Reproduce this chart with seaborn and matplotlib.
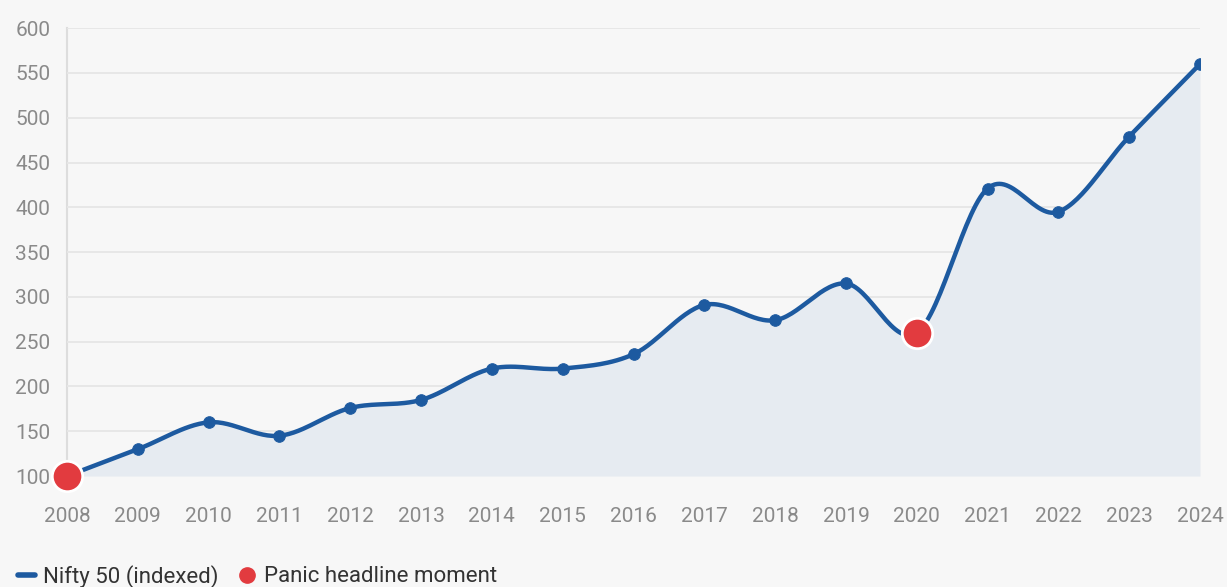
import numpy as np
import pandas as pd
import matplotlib
matplotlib.use("Agg")
import matplotlib.pyplot as plt
import seaborn as sns
from matplotlib.lines import Line2D

years = [2008, 2009, 2010, 2011, 2012, 2013, 2014, 2015, 2016,
         2017, 2018, 2019, 2020, 2021, 2022, 2023, 2024]
nifty = [100, 130, 160, 145, 176, 185, 220, 220, 236,
         291, 274, 315, 260, 421, 395, 479, 560]
panic_years = [2008, 2020]
panic_values = [100, 260]
y_ticks = [100, 150, 200, 250, 300, 350, 400, 450, 500, 550, 600]

LINE = "#1d5aa0"
RED = "#e23b3f"
BG = "#f7f7f7"

sns.set_theme(style="white")
plt.rcParams['font.family'] = ['Roboto', 'DejaVu Sans']


def catmull_rom(x, y, n=30):
    x = np.asarray(x, float)
    y = np.asarray(y, float)
    xp = np.concatenate([[2 * x[0] - x[1]], x, [2 * x[-1] - x[-2]]])
    yp = np.concatenate([[2 * y[0] - y[1]], y, [2 * y[-1] - y[-2]]])
    xs, ys = [], []
    for i in range(1, len(xp) - 2):
        t = np.linspace(0, 1, n, endpoint=(i == len(xp) - 3))
        p0, p1, p2, p3 = yp[i - 1], yp[i], yp[i + 1], yp[i + 2]
        q0, q1, q2, q3 = xp[i - 1], xp[i], xp[i + 1], xp[i + 2]
        f = lambda a0, a1, a2, a3: 0.5 * ((2 * a1) + (-a0 + a2) * t
                                          + (2 * a0 - 5 * a1 + 4 * a2 - a3) * t ** 2
                                          + (-a0 + 3 * a1 - 3 * a2 + a3) * t ** 3)
        xs.append(f(q0, q1, q2, q3))
        ys.append(f(p0, p1, p2, p3))
    return np.concatenate(xs), np.concatenate(ys)


sx, sy = catmull_rom(years, nifty)
smooth = pd.DataFrame({"year": sx, "value": sy})
points = pd.DataFrame({"year": years, "value": nifty})
panic = pd.DataFrame({"year": panic_years, "value": panic_values})

fig = plt.figure(figsize=(12.27, 5.87), dpi=100, facecolor=BG)
ax = fig.add_axes([0.0546, 0.189, 0.9234, 0.763])
ax.set_facecolor(BG)

ax.fill_between(smooth["year"], 100, smooth["value"], color="#e6ebf1", zorder=1, lw=0)
sns.lineplot(data=smooth, x="year", y="value", ax=ax, color=LINE, lw=3.2, zorder=3,
             sort=False)
sns.scatterplot(data=points, x="year", y="value", ax=ax, color=LINE, s=70,
                edgecolor=LINE, zorder=4)
sns.scatterplot(data=panic, x="year", y="value", ax=ax, color=RED, s=480,
                edgecolor="white", linewidth=2, zorder=5, clip_on=False)

ax.set_xlim(2008, 2024)
ax.set_ylim(100, 600)
ax.set_xticks(years)
ax.set_xticklabels([str(y) for y in years])
ax.set_yticks(y_ticks)
ax.set_yticklabels([str(v) for v in y_ticks])
ax.set_xlabel("")
ax.set_ylabel("")
ax.grid(axis="y", color="#e6e6e6", lw=1.3)
ax.grid(axis="x", visible=False)
ax.set_axisbelow(True)
for s in ["top", "right", "bottom"]:
    ax.spines[s].set_visible(False)
ax.spines["left"].set_color("#dddddd")
ax.spines["left"].set_linewidth(1.5)
ax.spines["left"].set_zorder(0.5)
ax.tick_params(axis="both", length=0, labelsize=15, colors="#8a8a8a")
ax.tick_params(axis="x", pad=22)
ax.tick_params(axis="y", pad=12)

handles = [Line2D([0], [0], color=LINE, lw=4),
           Line2D([0], [0], marker="o", color="none", markerfacecolor=RED,
                  markeredgecolor=RED, markersize=11)]
fig.legend(handles, ["Nifty 50 (indexed)", "Panic headline moment"],
           loc="lower left", bbox_to_anchor=(-0.002, -0.035), ncol=2, frameon=False,
           fontsize=16, handlelength=0.8, handletextpad=0.35, columnspacing=0.9,
           labelcolor="#333333")

fig.savefig("out.png", dpi=100, facecolor=BG)
